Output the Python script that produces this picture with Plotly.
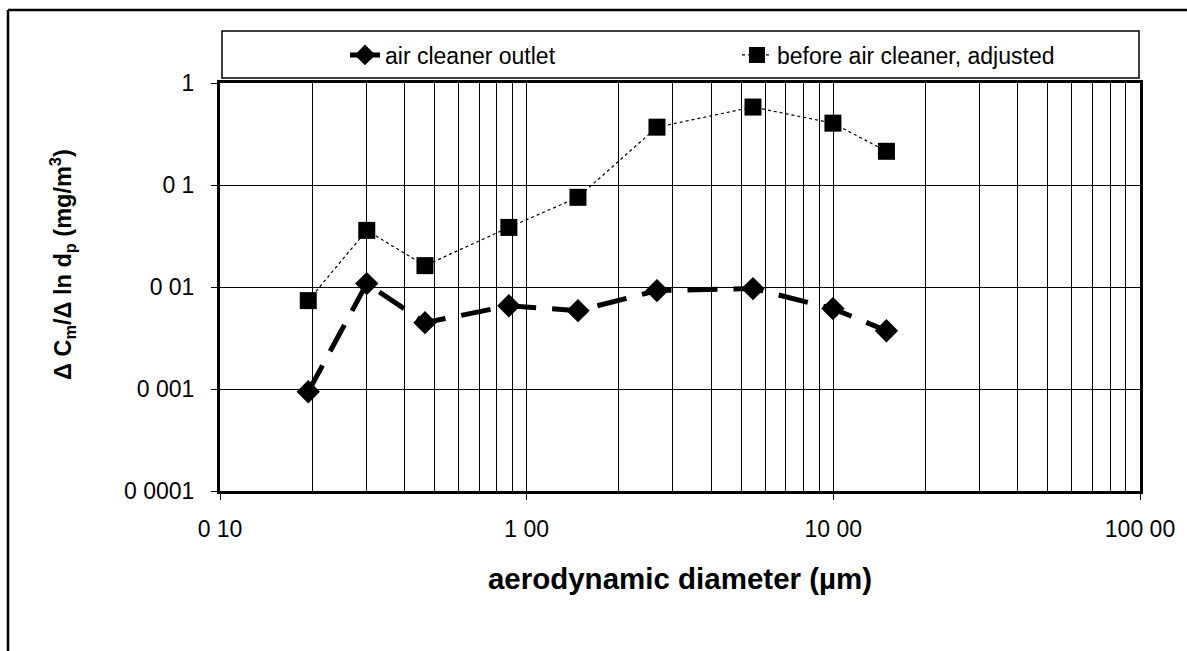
import plotly.graph_objects as go

# ---- data ----
diam_outlet = [0.194, 0.301, 0.466, 0.875, 1.47, 2.66, 5.47, 9.97, 14.9]
conc_outlet = [0.00094, 0.0108, 0.00447, 0.00656, 0.00586, 0.00922, 0.00964, 0.00614, 0.00373]

diam_before = [0.194, 0.301, 0.466, 0.875, 1.47, 2.66, 5.47, 9.97, 14.9]
conc_before = [0.00735, 0.0359, 0.0162, 0.0384, 0.0757, 0.369, 0.581, 0.404, 0.214]

x_tickvals = [0.1, 1, 10, 100]
x_ticktext = ["0 10", "1 00", "10 00", "100 00"]
y_tickvals = [0.0001, 0.001, 0.01, 0.1, 1]
y_ticktext = ["0 0001", "0 001", "0 01", "0 1", "1"]

FONT = "Liberation Sans, Arial, sans-serif"

fig = go.Figure()
fig.add_trace(go.Scatter(
    x=diam_outlet, y=conc_outlet, name="air cleaner outlet",
    mode="lines+markers",
    line=dict(color="black", width=5, dash="30px,16px"),
    marker=dict(symbol="diamond", size=18, color="black"),
    legend="legend",
))
fig.add_trace(go.Scatter(
    x=diam_before, y=conc_before, name="before air cleaner, adjusted",
    mode="lines+markers",
    line=dict(color="black", width=1.2, dash="dot"),
    marker=dict(symbol="square", size=17, color="black"),
    legend="legend2",
))

W, H = 1187, 651
L, R, T, B = 220, 47, 83, 160
pw, ph = W - L - R, H - T - B

def px(xp):
    return (xp - L) / pw

def py(yp):
    return (H - B - yp) / ph

fig.update_layout(
    width=W, height=H, autosize=False,
    margin=dict(l=L, r=R, t=T, b=B),
    paper_bgcolor="white", plot_bgcolor="white",
    font=dict(family=FONT, size=23, color="black"),
    xaxis=dict(
        type="log", range=[-1, 2],
        tickvals=x_tickvals, ticktext=x_ticktext,
        showgrid=True, gridcolor="black", gridwidth=1.3,
        minor=dict(showgrid=True, gridcolor="black", gridwidth=1, dtick="D1", ticks=""),
        showline=True, linecolor="black", linewidth=3, mirror=True,
        ticks="outside", ticklen=6, tickcolor="black", tickwidth=1,
        ticklabelstandoff=9,
        tickfont=dict(size=23),
        zeroline=False,
        title=dict(text="<b>aerodynamic diameter (µm)</b>", font=dict(size=29.5), standoff=28),
    ),
    yaxis=dict(
        type="log", range=[-4, 0],
        tickvals=y_tickvals, ticktext=y_ticktext,
        showgrid=True, gridcolor="black", gridwidth=1.3,
        showline=True, linecolor="black", linewidth=3, mirror=True,
        ticks="outside", ticklen=6, tickcolor="black", tickwidth=1,
        ticklabelstandoff=12,
        tickfont=dict(size=23),
        zeroline=False,
    ),
    legend=dict(
        orientation="h", x=px(345), y=py(55), xanchor="left", yanchor="middle",
        bgcolor="rgba(0,0,0,0)", borderwidth=0, font=dict(size=23),
    ),
    legend2=dict(
        orientation="h", x=px(737), y=py(55), xanchor="left", yanchor="middle",
        bgcolor="rgba(0,0,0,0)", borderwidth=0, font=dict(size=23),
    ),
    showlegend=True,
    annotations=[dict(
        text="<b>Δ C<sub>m</sub>/Δ ln d<sub>p</sub> (mg/m<sup>3</sup>)</b>",
        textangle=-90, xref="paper", yref="paper",
        x=px(62), y=py(265), xanchor="center", yanchor="middle",
        showarrow=False, font=dict(size=23.5),
    )],
    shapes=[
        # legend box
        dict(type="rect", xref="paper", yref="paper",
             x0=px(222), x1=px(1139), y0=py(78), y1=py(31),
             line=dict(color="black", width=1.5), layer="above"),
        # outer frame (left and top edges)
        dict(type="line", xref="paper", yref="paper",
             x0=px(8), x1=px(8), y0=py(651), y1=py(10),
             line=dict(color="black", width=2.5)),
        dict(type="line", xref="paper", yref="paper",
             x0=px(8), x1=px(1187), y0=py(10), y1=py(10),
             line=dict(color="black", width=2.5)),
    ],
)

fig.write_html("out.html")
